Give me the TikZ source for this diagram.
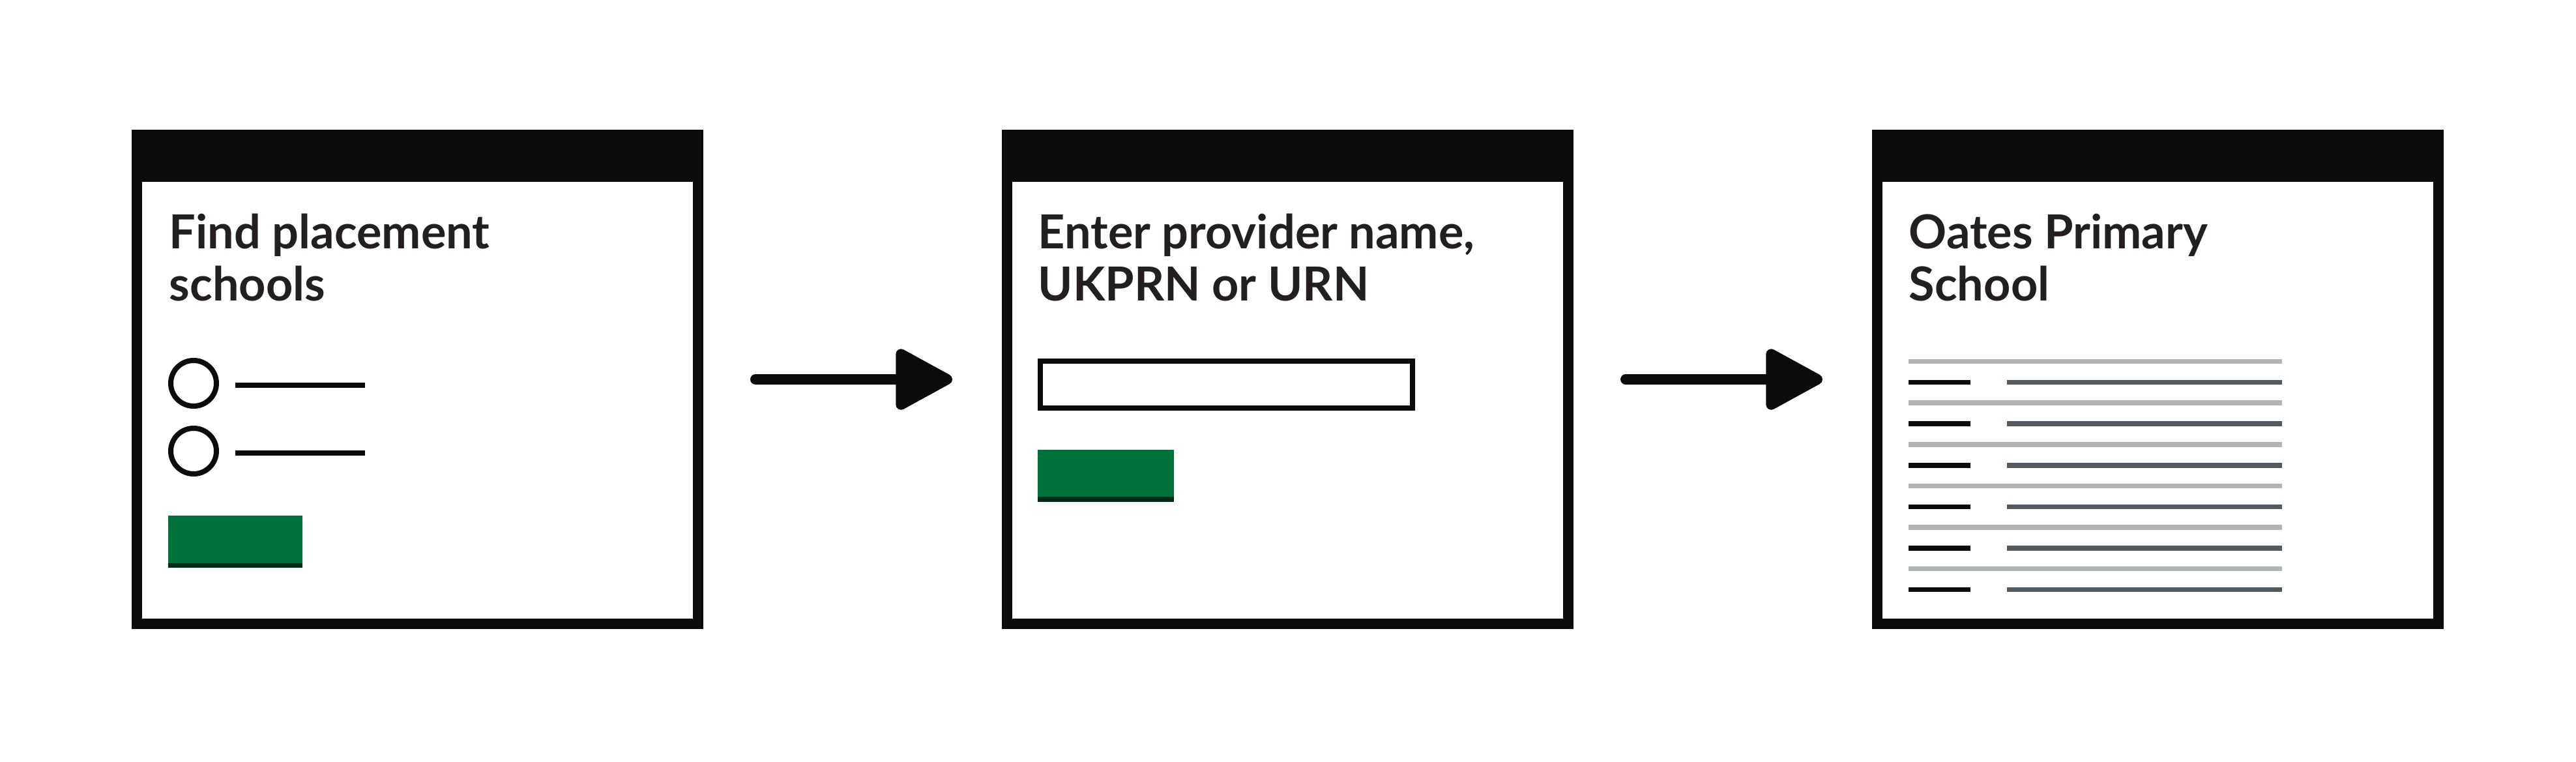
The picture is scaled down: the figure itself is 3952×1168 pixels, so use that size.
\documentclass[tikz,border=0pt]{standalone}
\usepackage{fontspec}
\setmainfont{Lato}
\usepackage{tikz}
\usetikzlibrary{arrows.meta,positioning}
\definecolor{ink}{HTML}{0B0C0C}
\definecolor{textink}{HTML}{231F20}
\definecolor{govgreen}{HTML}{00703C}
\definecolor{darkgreen}{HTML}{002D18}
\definecolor{lightrule}{HTML}{B1B4B6}
\definecolor{midrule}{HTML}{505A5F}

\begin{document}
\begin{tikzpicture}[x=0.25pt, y=-0.25pt,
  win/.style={draw=ink, line width=4pt, outer sep=0pt, fill=white, minimum width=215.25pt, minimum height=187.5pt},
  title/.style={anchor=base west, inner sep=0pt, align=left, text=textink, font=\fontsize{18}{20}\selectfont\bfseries},
  radio/.style={circle, draw=ink, line width=2pt, minimum size=17.5pt, inner sep=0pt},
  rule/.style={line width=1.9pt},
  flow/.style={-{Triangle[length=24pt, width=25pt, round]}, draw=ink, line width=4pt, line cap=round}]
\useasboundingbox (0,0) rectangle (3952,1168);
% three screens
\node[win] (find) at (640.5,582) {};
\node[win, right=118.5pt of find] (search) {};
\node[win, right=118.5pt of search] (school) {};
\foreach \w in {find,search,school}
  \fill[ink] ([xshift=-2pt,yshift=2pt]\w.north west) rectangle ([xshift=2pt,yshift=-18pt]\w.north east);

% screen 1
\node[title] (findtitle) at (259,461) {Find placement\\schools};
\node[radio] (opta) at (297,588) {};
\node[radio] (optb) at (297,692) {};
\draw[ink, rule] (361,591) -- (560,591);
\draw[ink, rule] (361,695) -- (560,695);
\fill[govgreen] (258,791) rectangle (464,871);
\fill[darkgreen] (258,864) rectangle (464,871);

% screen 2
\node[title] (searchtitle) at (1592,461) {Enter provider name,\\UKPRN or URN};
\draw[ink, line width=2pt] (1596,554) rectangle (2167,626);
\fill[govgreen] (1592,690) rectangle (1801,770);
\fill[darkgreen] (1592,762) rectangle (1801,770);

% screen 3
\node[title] (schooltitle) at (2928,461) {Oates Primary\\School};
\foreach \k in {0,...,5} {
  \draw[lightrule, rule] (2928,554.5+63.6*\k) -- (3501,554.5+63.6*\k);
  \draw[ink, rule] (2928,586.6+63.6*\k) -- (3023,586.6+63.6*\k);
  \draw[midrule, rule] (3079,586.6+63.6*\k) -- (3501,586.6+63.6*\k);
}

% arrows
\draw[flow, shorten <=22pt, shorten >=21pt] (find.east) -- (search.west);
\draw[flow, shorten <=22pt, shorten >=21pt] (search.east) -- (school.west);
\end{tikzpicture}
\end{document}
